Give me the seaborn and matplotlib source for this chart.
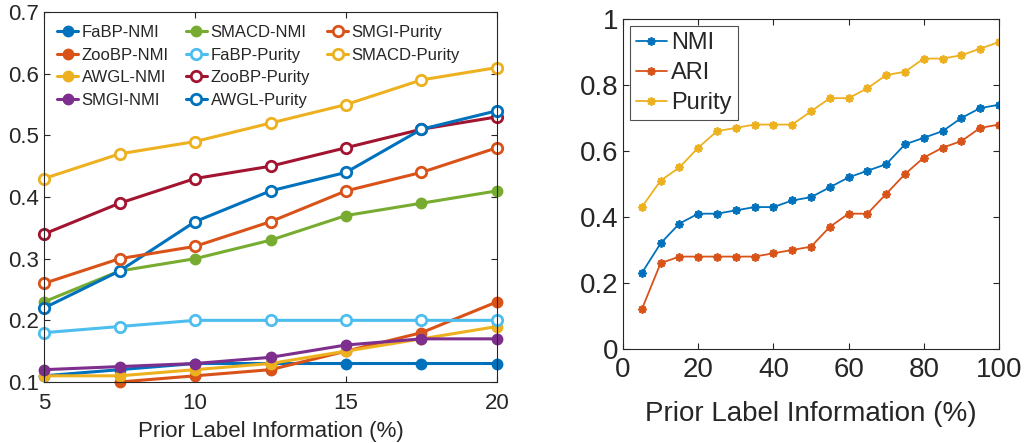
import numpy as np
import pandas as pd
import matplotlib
matplotlib.use("Agg")
import matplotlib.pyplot as plt
from matplotlib.lines import Line2D
import seaborn as sns

# Left panel: different methods vs. prior label ratio
x_left = [5, 7.5, 10, 12.5, 15, 17.5, 20]
fabp_nmi = [0.11, 0.12, 0.13, 0.13, 0.13, 0.13, 0.13]
zoobp_nmi = [np.nan, 0.10, 0.11, 0.12, 0.15, 0.18, 0.23]
awgl_nmi = [0.11, 0.11, 0.12, 0.13, 0.15, 0.17, 0.19]
smgi_nmi = [0.12, 0.125, 0.13, 0.14, 0.16, 0.17, 0.17]
smacd_nmi = [0.23, 0.28, 0.30, 0.33, 0.37, 0.39, 0.41]
fabp_purity = [0.18, 0.19, 0.20, 0.20, 0.20, 0.20, 0.20]
zoobp_purity = [0.34, 0.39, 0.43, 0.45, 0.48, 0.51, 0.53]
awgl_purity = [0.22, 0.28, 0.36, 0.41, 0.44, 0.51, 0.54]
smgi_purity = [0.26, 0.30, 0.32, 0.36, 0.41, 0.44, 0.48]
smacd_purity = [0.43, 0.47, 0.49, 0.52, 0.55, 0.59, 0.61]

# Right panel: our method, three metrics
x_right = [5, 10, 15, 20, 25, 30, 35, 40, 45, 50, 55, 60, 65, 70, 75, 80, 85, 90, 95, 100]
nmi = [0.23, 0.32, 0.38, 0.41, 0.41, 0.42, 0.43, 0.43, 0.45, 0.46,
       0.49, 0.52, 0.54, 0.56, 0.62, 0.64, 0.66, 0.70, 0.73, 0.74]
ari = [0.12, 0.26, 0.28, 0.28, 0.28, 0.28, 0.28, 0.29, 0.30, 0.31,
       0.37, 0.41, 0.41, 0.47, 0.53, 0.58, 0.61, 0.63, 0.67, 0.68]
purity = [0.43, 0.51, 0.55, 0.61, 0.66, 0.67, 0.68, 0.68, 0.68, 0.72,
          0.76, 0.76, 0.79, 0.83, 0.84, 0.88, 0.88, 0.89, 0.91, 0.93]

BLUE, ORANGE, YELLOW, PURPLE = "#0072BD", "#D95319", "#EDB120", "#7E2F8E"
GREEN, CYAN, DARKRED = "#77AC30", "#4DBEEE", "#A2142F"

sns.set_style("ticks")
plt.rcParams["font.family"] = ["Liberation Sans", "DejaVu Sans"]
plt.rcParams["xtick.direction"] = "in"
plt.rcParams["ytick.direction"] = "in"
plt.rcParams["xtick.top"] = True
plt.rcParams["ytick.right"] = True

fig = plt.figure(figsize=(10.26, 4.43), dpi=100)
ax1 = fig.add_axes([0.0429, 0.1377, 0.4415, 0.835])
ax2 = fig.add_axes([0.6072, 0.2122, 0.3665, 0.745])

left_series = [
    ("FaBP-NMI", fabp_nmi, BLUE, True),
    ("ZooBP-NMI", zoobp_nmi, ORANGE, True),
    ("AWGL-NMI", awgl_nmi, YELLOW, True),
    ("SMGI-NMI", smgi_nmi, PURPLE, True),
    ("SMACD-NMI", smacd_nmi, GREEN, True),
    ("FaBP-Purity", fabp_purity, CYAN, False),
    ("ZooBP-Purity", zoobp_purity, DARKRED, False),
    ("AWGL-Purity", awgl_purity, BLUE, False),
    ("SMGI-Purity", smgi_purity, ORANGE, False),
    ("SMACD-Purity", smacd_purity, YELLOW, False),
]

for name, vals, col, filled in left_series:
    df = pd.DataFrame({"x": x_left, "y": vals})
    sns.lineplot(data=df, x="x", y="y", ax=ax1, color=col, lw=2.2,
                 marker="o", ms=6.5 if filled else 7.5,
                 mfc=col if filled else "white", mec=col, mew=2,
                 label=name, clip_on=False)

ax1.set_xlim(5, 20)
ax1.set_ylim(0.1, 0.7)
ax1.set_xticks([5, 10, 15, 20])
ax1.set_yticks([0.1, 0.2, 0.3, 0.4, 0.5, 0.6, 0.7])
ax1.set_yticklabels(["0.1", "0.2", "0.3", "0.4", "0.5", "0.6", "0.7"])
ax1.set_xlabel("Prior Label Information (%)", fontsize=16, color="#262626", labelpad=5)
ax1.set_ylabel("")

# legend filled column-wise 4/4/2 -> pad with blanks
handles, labels = ax1.get_legend_handles_labels()
blank = Line2D([], [], linestyle="none", marker=None)
handles = handles + [blank, blank]
labels = labels + ["", ""]
ax1.legend(handles, labels, ncol=3, loc="upper left", frameon=False,
           fontsize=12, handlelength=1.3, handletextpad=0.2,
           columnspacing=1.0, labelspacing=0.45,
           bbox_to_anchor=(-0.005, 1.005))

right_series = [("NMI", nmi, BLUE), ("ARI", ari, ORANGE), ("Purity", purity, YELLOW)]
for name, vals, col in right_series:
    df = pd.DataFrame({"x": x_right, "y": vals})
    sns.lineplot(data=df, x="x", y="y", ax=ax2, color=col, lw=1.3,
                 marker=(8, 2, 0), ms=6, mec=col, mew=1.3, label=name)

ax2.set_xlim(0, 100)
ax2.set_ylim(0, 1)
ax2.set_xticks([0, 20, 40, 60, 80, 100])
ax2.set_yticks([0, 0.2, 0.4, 0.6, 0.8, 1.0])
ax2.set_yticklabels(["0", "0.2", "0.4", "0.6", "0.8", "1"])
ax2.set_xlabel("Prior Label Information (%)", fontsize=20, color="#262626", labelpad=13)
ax2.set_ylabel("")
leg2 = ax2.legend(loc="upper left", fontsize=17, handlelength=1.3,
                  handletextpad=0.2, labelspacing=0.35, borderpad=0.25,
                  fancybox=False, edgecolor="#262626", borderaxespad=0.3)
leg2.get_frame().set_linewidth(0.8)

for ax, fs in ((ax1, 16), (ax2, 20)):
    ax.tick_params(labelsize=fs, colors="#262626", length=4, width=0.8)
    for sp in ax.spines.values():
        sp.set_visible(True)
        sp.set_color("#262626")
        sp.set_linewidth(0.8)
ax1.tick_params(axis="x", pad=8)
ax2.tick_params(axis="x", pad=6)

fig.savefig("out.png", dpi=100)
